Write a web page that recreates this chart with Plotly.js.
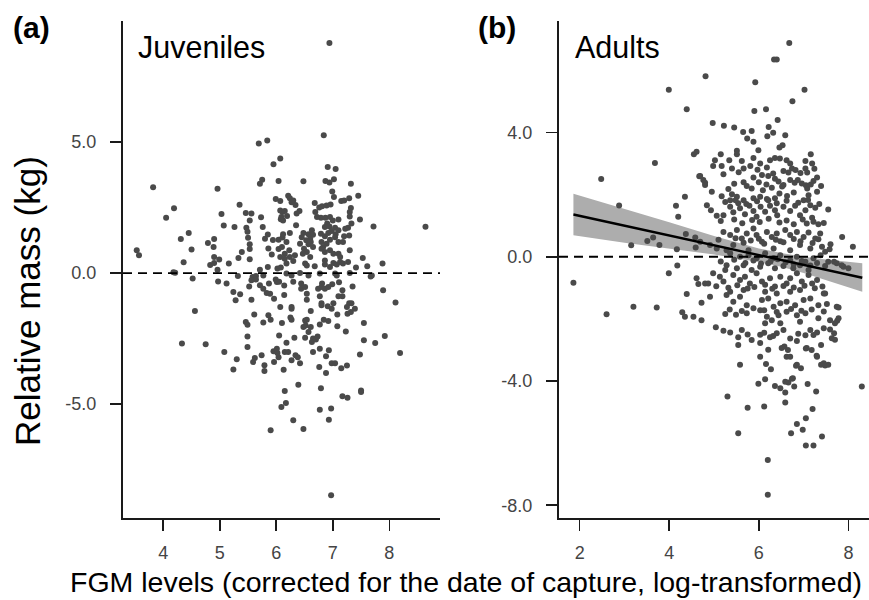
<!DOCTYPE html>
<html>
<head>
<meta charset="utf-8">
<script src="https://cdn.plot.ly/plotly-3.0.1.min.js"></script>
<style>html,body{margin:0;padding:0;background:#fff;}#chart{width:869px;height:600px;}</style>
</head>
<body>
<div id="chart"></div>
<script>
// ---------- Panel (a) Juveniles ----------
const juvX = [5.84,5.69,6.07,5.95,3.82,4.96,5.75,5.71,6.04,5.99,4.19,4.05,5.35,5.03,5.46,5.56,6.07,6.11,5.73,6.08,5.53,5.07,5.26,5.47,5.49,5.76,4.45,4.31,4.79,4.90,4.89,4.50,5.50,5.53,5.53,5.80,5.85,5.94,6.04,6.11,5.86,5.92,6.04,6.10,3.53,3.57,4.36,4.90,4.99,4.83,4.90,4.96,5.16,5.33,5.39,5.53,5.71,5.85,6.02,6.08,4.18,4.21,5.32,4.52,5.58,5.64,5.56,5.64,5.77,5.99,6.05,4.97,5.12,5.87,
6.84,6.91,7.05,6.48,6.87,6.94,7.02,7.32,7.45,6.99,7.02,7.15,7.20,7.29,6.21,6.24,6.30,6.34,6.27,6.07,6.68,6.76,6.81,6.89,6.96,6.41,6.36,6.15,6.19,6.12,6.09,7.32,7.30,6.69,6.72,6.79,6.87,6.95,7.00,7.10,6.90,6.86,6.94,7.04,7.30,7.33,7.27,7.22,7.48,7.72,8.64,6.35,6.24,6.12,6.48,6.57,6.63,6.65,6.60,6.53,6.45,6.79,6.86,6.92,6.98,7.05,7.10,6.18,6.15,6.23,6.42,6.49,6.57,6.61,6.65,6.54,6.60,6.47,6.80,6.83,6.89,6.95,7.04,7.10,7.18,7.20,7.29,6.80,6.86,6.95,7.01,7.10,7.13,7.30,6.07,6.15,6.24,6.33,6.30,6.18,6.51,6.54,6.68,6.86,6.86,6.95,7.01,7.07,7.13,7.18,7.27,7.41,7.53,7.61,7.88,6.18,6.27,6.42,6.57,6.77,7.04,7.07,7.30,7.69,6.30,6.44,6.81,6.99,7.11,7.67,7.89,6.94,
5.24,5.36,5.28,5.52,5.56,5.71,5.77,5.83,5.89,5.96,6.01,6.14,6.14,4.56,4.33,4.75,5.08,5.30,5.24,5.49,5.49,5.46,5.49,5.61,5.77,5.86,5.90,5.59,5.62,5.74,5.79,5.79,5.95,6.01,5.96,6.04,6.02,6.05,6.10,6.07,6.18,6.32,6.27,6.25,6.27,6.27,6.15,6.21,6.27,6.34,6.38,6.42,6.13,6.44,6.51,6.54,6.54,6.61,6.51,6.54,6.48,6.52,6.61,6.57,6.51,6.65,6.63,6.70,6.73,6.74,6.80,6.86,6.92,6.77,6.80,6.80,6.91,6.98,7.01,7.08,7.17,7.10,7.17,6.77,6.84,6.92,7.08,7.23,6.65,6.77,6.88,6.93,6.98,7.04,7.15,7.25,6.76,6.88,7.25,7.29,7.33,7.26,7.32,7.39,7.35,7.55,7.55,7.48,7.75,7.92,8.11,8.19,6.15,6.39,6.79,7.50,7.50,7.17,7.26,6.17,6.09,6.30,5.90,6.48,6.77,6.97,6.93,6.97];
const juvY = [5.06,4.94,4.37,4.15,3.27,3.22,3.56,3.41,3.51,2.83,2.47,2.11,2.61,2.25,2.29,2.27,2.39,2.33,2.13,2.05,2.01,1.81,1.76,1.73,1.58,1.76,1.53,1.30,1.15,1.30,0.99,0.90,1.35,1.10,0.92,1.31,1.47,1.26,1.27,1.36,0.94,0.71,0.92,0.99,0.87,0.68,0.41,0.61,0.52,0.31,0.38,0.13,0.36,0.57,0.80,0.53,0.13,0.23,0.17,0.21,0.03,0.01,-0.11,-0.21,-0.15,-0.11,-0.28,-0.25,-0.09,-0.25,-0.33,-0.32,-0.40,-0.40,
5.26,4.05,3.97,3.50,3.51,3.46,3.58,3.41,2.95,3.11,2.90,2.75,2.77,2.85,2.95,2.85,2.77,2.60,2.70,2.75,2.67,2.50,2.55,2.58,2.62,2.37,2.27,2.37,2.18,2.01,2.14,2.48,2.33,2.33,2.14,2.11,2.11,2.14,2.01,2.04,1.89,1.76,1.78,1.73,2.16,1.89,1.73,1.69,2.04,1.78,1.77,1.82,1.53,1.48,1.53,1.48,1.63,1.46,1.31,1.25,1.37,1.50,1.40,1.53,1.60,1.48,1.63,1.18,0.74,0.87,1.12,0.93,1.10,1.18,0.99,0.80,0.61,0.74,1.18,0.99,1.12,1.27,1.37,1.18,1.18,1.40,1.43,0.93,0.80,0.87,0.74,0.74,0.61,0.87,0.61,0.55,0.61,0.68,0.46,0.36,0.36,0.29,0.26,0.48,0.33,0.23,0.38,0.33,0.42,0.36,0.42,0.21,0.57,0.26,0.36,-0.02,-0.09,0.00,-0.09,-0.02,-0.02,-0.09,0.00,-0.09,-0.33,-0.40,-0.40,-0.43,-0.35,-0.13,-0.66,8.78,
-0.72,-0.81,-1.04,-0.51,-1.02,-0.47,-0.60,-0.76,-0.79,-0.98,-0.34,-0.48,-0.84,-1.45,-2.69,-2.72,-3.01,-3.29,-3.68,-2.82,-2.42,-1.87,-1.97,-1.58,-1.89,-1.61,-1.78,-3.40,-3.24,-3.14,-3.52,-3.74,-2.99,-2.89,-3.40,-3.21,-3.05,-2.38,-1.91,-1.30,-2.66,-2.47,-1.78,-1.70,-1.36,-1.30,-3.01,-3.01,-3.33,-3.14,-3.21,-3.44,-3.69,-0.60,-0.53,-0.79,-1.02,-1.45,-1.81,-1.78,-2.06,-2.00,-2.06,-2.25,-2.47,-2.50,-2.63,-2.54,-2.42,-0.60,-0.53,-0.60,-0.53,-0.89,-1.15,-1.23,-1.27,-1.36,-1.15,-1.58,-0.66,-0.89,-0.89,-1.96,-1.78,-1.83,-2.03,-2.23,-3.01,-2.89,-3.18,-2.95,-3.44,-3.44,-3.63,-3.53,-3.59,-3.82,-1.30,-1.15,-1.15,-1.55,-1.49,-1.36,-0.51,-1.91,-2.57,-3.11,-2.67,-2.40,-1.12,-3.05,-4.50,-4.26,-4.40,-4.48,-4.54,-4.70,-4.76,-4.96,-5.11,-5.62,-6.00,-5.95,-5.22,-5.17,-5.60,-8.48];

// ---------- Panel (b) Adults ----------
const adX = [1.86,2.48,2.88,3.15,3.51,3.64,3.78,3.68,3.99,4.39,4.81,4.15,4.20,4.35,4.17,4.37,4.58,4.59,4.18,3.99,4.39,4.55,4.61,4.67,4.80,4.97,5.22,5.45,5.92,6.34,6.40,6.68,6.75,7.02,5.90,6.16,6.42,6.22,6.32,6.59,5.65,5.84,5.88,5.99,8.10,7.86,7.55,7.33,7.37,7.58,7.74,7.89,8.00,7.68,
2.60,3.20,3.72,4.29,4.35,4.54,4.72,4.72,5.04,5.21,5.36,5.25,5.49,5.54,5.54,5.58,5.84,6.03,5.30,5.75,6.12,5.99,6.14,5.54,6.20,6.20,6.36,6.48,6.59,6.59,6.66,6.76,6.79,6.72,6.85,6.98,7.05,7.05,7.22,7.20,7.09,7.28,7.41,8.30,6.16,6.27,6.57,6.65,6.70,6.83,6.94,7.05,7.18,7.29,7.39,7.48,7.55,7.39,7.63,7.68,7.59,7.75,7.78,7.52,7.70,5.74,
6.19,6.46,6.53,5.51,5.51,
5.15,5.02,4.98,5.17,5.34,5.40,5.21,5.62,5.66,5.81,5.88,6.03,6.18,6.25,6.36,6.47,6.62,6.70,6.74,6.66,6.82,7.04,7.16,7.19,7.04,7.08,
4.69,4.76,4.80,4.95,5.17,5.32,5.40,5.66,5.88,5.84,6.07,6.21,6.09,6.29,6.36,6.44,6.55,6.70,6.87,6.96,7.08,7.16,7.30,7.39,7.30,7.11,7.00,6.78,6.63,6.46,6.36,6.21,6.03,5.88,5.66,5.51,5.36,
4.84,4.93,5.06,5.21,5.36,5.43,5.54,5.58,5.69,5.79,5.88,5.95,6.04,6.14,6.25,6.36,6.41,6.55,6.70,6.81,6.92,7.04,7.15,7.26,7.19,7.07,
5.21,5.36,5.51,5.62,5.73,5.88,5.95,6.07,6.18,6.29,6.40,6.48,6.59,6.70,6.85,7.00,7.11,7.26,4.69,4.91,5.06,5.28,5.43,5.77,6.33,6.70,6.92,7.15,7.41,7.48,
5.36,5.58,5.77,5.95,6.14,6.33,6.48,6.70,6.85,7.04,7.22,7.38,7.55,7.85,5.28,5.51,5.66,5.84,6.03,6.21,6.36,6.55,6.77,6.92,7.11,
4.98,5.13,5.25,5.21,4.61,4.65,4.80,4.87,5.43,5.58,5.69,5.80,5.95,6.07,6.25,6.36,6.48,6.62,6.70,6.85,6.96,7.11,7.19,7.30,7.45,5.36,5.66,6.14,6.40,6.70,6.92,
4.91,5.28,5.43,5.58,5.73,6.07,6.21,6.33,6.48,6.62,6.81,7.00,7.15,7.33,7.48,7.74,5.73,6.03,6.18,6.29,6.44,6.62,6.85,7.04,7.33,7.59,7.78,6.14,6.48,6.92,
5.62,6.03,6.25,6.40,6.55,6.70,6.85,7.04,7.15,7.30,7.45,7.70,6.21,6.51,6.62,6.85,7.07,7.30,7.45,6.03,6.74,6.59,
5.55,5.97,6.32,6.55,6.93,7.24,
5.45,5.73,6.00,6.17,6.52,6.80,7.05,7.22,
5.25,5.48,5.72,5.96,6.18,6.40,6.62,6.88,7.10,7.35,
5.15,5.45,5.63,5.85,6.02,6.22,6.46,6.62,6.78,6.98,7.22,7.45,
5.10,5.48,5.66,5.82,6.00,6.12,6.38,6.55,6.78,6.93,7.20,7.33,7.60,
5.15,5.45,5.70,5.88,6.05,6.26,6.42,6.60,6.78,6.96,7.15,7.30,7.48,
5.05,5.32,5.52,5.75,5.90,6.14,6.30,6.55,6.78,7.02,7.25,7.42,
5.35,5.62,5.88,6.12,6.40,6.72,6.95,7.18,7.45,
5.75,6.12,6.32,6.88,7.22];
const adY = [-0.84,2.50,1.65,0.37,0.51,0.62,0.38,3.02,5.38,4.75,5.81,1.64,1.29,1.93,0.24,0.73,0.62,0.30,-0.28,-0.53,-1.20,3.30,3.38,2.59,2.38,4.31,4.22,4.16,5.62,6.35,6.35,6.88,5.01,5.38,4.69,4.75,4.40,4.18,3.99,3.91,4.02,4.05,3.70,3.43,0.32,0.64,1.52,1.05,0.75,0.24,-0.21,-0.32,-0.37,-0.16,
-1.85,-1.61,-1.63,-1.79,-1.93,-1.93,-2.04,-1.48,-2.27,-2.38,-2.44,-1.84,-1.87,-2.59,-2.84,-3.48,-2.68,-2.78,-4.50,-4.86,-4.82,-4.09,-3.94,-5.68,-6.54,-7.66,-4.16,-4.23,-4.37,-4.69,-4.05,-3.91,-4.18,-5.68,-5.38,-5.57,-5.20,-6.08,-6.08,-4.90,-4.10,-4.34,-5.79,-4.18,-3.45,-3.62,-2.89,-3.00,-3.22,-3.51,-3.59,-2.95,-3.00,-3.19,-3.48,-3.50,-3.48,-2.84,-2.62,-2.46,-2.34,-2.06,-1.63,-1.52,-2.14,3.81,
3.88,3.52,3.59,3.41,3.30,
3.30,3.11,2.92,2.92,3.11,2.84,2.66,3.08,2.84,2.92,3.18,3.00,2.87,3.11,3.18,3.16,3.11,3.00,2.84,2.71,2.79,3.08,3.30,3.00,2.84,2.71,
2.60,2.47,2.31,2.09,1.95,2.18,2.01,2.40,2.55,2.20,2.63,2.60,2.14,2.22,2.51,2.42,2.31,2.47,2.47,2.36,2.20,2.33,2.55,2.28,2.09,1.98,1.82,2.07,1.96,2.04,1.88,1.82,1.93,1.88,1.82,1.93,1.82,
1.66,1.50,1.32,1.34,1.61,1.43,1.72,1.56,1.37,1.64,1.47,1.29,1.61,1.45,1.64,1.50,1.34,1.61,1.47,1.64,1.34,1.50,1.66,1.58,1.26,1.07,
0.80,0.70,0.86,0.59,0.75,0.91,0.70,0.48,0.80,0.64,0.75,0.50,0.86,0.70,0.80,0.64,0.78,0.59,0.48,0.38,0.27,0.21,0.38,0.21,0.27,0.21,0.38,0.27,0.32,0.16,
0.11,0.00,0.05,-0.05,0.11,-0.05,0.05,-0.11,0.00,-0.16,-0.05,0.05,-0.16,-0.27,-0.27,-0.37,-0.27,-0.43,-0.32,-0.21,-0.37,-0.30,-0.37,-0.27,-0.43,
-0.53,-0.64,-0.43,-0.80,-0.69,-0.88,-0.86,-0.86,-0.59,-0.75,-0.64,-0.86,-0.53,-0.80,-0.69,-0.96,-0.64,-0.86,-0.69,-0.53,-0.80,-0.59,-0.86,-0.75,-1.18,-1.13,-1.07,-1.13,-1.18,-1.13,-1.07,
-1.29,-1.23,-1.45,-1.29,-1.56,-1.39,-1.34,-1.61,-1.50,-1.45,-1.56,-1.39,-1.34,-1.56,-1.18,-1.61,-1.82,-1.72,-1.93,-2.04,-1.88,-1.77,-1.88,-1.82,-1.98,-2.04,-1.98,-2.14,-2.14,-2.09,
-2.36,-2.51,-2.59,-2.46,-2.36,-2.63,-2.71,-2.53,-2.36,-2.44,-2.30,-2.67,-2.99,-2.94,-3.22,-3.48,-2.94,-3.22,-3.43,-3.22,-3.93,-4.02,
2.72,2.80,2.68,2.76,2.70,2.83,
2.35,2.28,2.40,2.33,2.26,2.38,2.30,2.44,
1.76,1.82,1.70,1.79,1.86,1.72,1.80,1.74,1.83,1.70,
1.15,1.20,1.08,1.18,1.12,1.22,1.10,1.17,1.05,1.20,1.13,1.09,
0.55,0.60,0.45,0.52,0.58,0.42,0.55,0.47,0.57,0.50,0.44,0.56,0.40,
-0.15,-0.10,-0.20,-0.12,-0.22,-0.15,-0.08,-0.18,-0.24,-0.14,-0.28,-0.20,-0.30,
-0.95,-1.00,-0.92,-1.02,-0.97,-0.90,-1.03,-0.94,-0.99,-0.93,-1.01,-0.96,
-1.70,-1.75,-1.66,-1.72,-1.78,-1.68,-1.74,-1.70,-1.76,
-2.50,-2.45,-2.55,-2.48,-2.52];

// regression fit and confidence band (adults)
const fitX     = [1.86, 3.0, 4.0, 5.0, 6.0, 6.5, 7.0, 7.5, 8.31];
const fitY     = [1.36, 1.00, 0.685, 0.369, 0.054, -0.104, -0.262, -0.419, -0.675];
const fitUpper = [2.03, 1.55, 1.115, 0.67, 0.27, 0.12, 0.00, -0.09, -0.21];
const fitLower = [0.69, 0.45, 0.255, 0.07, -0.17, -0.32, -0.52, -0.75, -1.13];

// tick labels
const juvXTicks = [4, 5, 6, 7, 8];
const juvYTicks = [-5, 0, 5];
const adXTicks = [2, 4, 6, 8];
const adYTicks = [-8, -4, 0, 4];

const W = 869, H = 600;
const FONT = 'Liberation Sans, Arial, sans-serif';
const dotColor = '#4a4a4a';

const traces = [
  {x: juvX, y: juvY, type: 'scatter', mode: 'markers', xaxis: 'x', yaxis: 'y',
   marker: {color: dotColor, size: 6}, hoverinfo: 'skip'},
  {x: fitX.concat(fitX.slice().reverse()), y: fitUpper.concat(fitLower.slice().reverse()),
   type: 'scatter', mode: 'lines', fill: 'toself', fillcolor: '#adadad',
   line: {width: 0}, xaxis: 'x2', yaxis: 'y2', hoverinfo: 'skip'},
  {x: adX, y: adY, type: 'scatter', mode: 'markers', xaxis: 'x2', yaxis: 'y2',
   marker: {color: dotColor, size: 6}, hoverinfo: 'skip'},
  {x: fitX, y: fitY, type: 'scatter', mode: 'lines', xaxis: 'x2', yaxis: 'y2',
   line: {color: '#000', width: 2.4}, hoverinfo: 'skip'}
];

const axBase = {
  showgrid: false, zeroline: false, showline: true, linecolor: '#1a1a1a', linewidth: 2,
  ticks: 'outside', ticklen: 11, tickwidth: 1.6, tickcolor: '#1a1a1a',
  tickfont: {family: FONT, size: 18, color: '#444'}, fixedrange: true
};
const yDom = [1 - 518 / H, 1 - 21 / H];

const layout = {
  width: W, height: H, showlegend: false,
  paper_bgcolor: '#fff', plot_bgcolor: '#fff',
  margin: {l: 0, r: 0, t: 0, b: 0, pad: 0},
  xaxis: Object.assign({}, axBase, {domain: [123 / W, 440 / W], range: [3.287, 8.897],
    tickmode: 'array', tickvals: juvXTicks, ticktext: juvXTicks.map(String), anchor: 'y', ticklabelstandoff: 6}),
  yaxis: Object.assign({}, axBase, {domain: yDom, range: [-9.35, 9.62],
    tickmode: 'array', tickvals: juvYTicks, ticktext: juvYTicks.map(v => v.toFixed(1)), anchor: 'x', ticklabelstandoff: 10}),
  xaxis2: Object.assign({}, axBase, {domain: [559 / W, 1], range: [1.538, 8.46],
    tickmode: 'array', tickvals: adXTicks, ticktext: adXTicks.map(String), anchor: 'y2', ticklabelstandoff: 6}),
  yaxis2: Object.assign({}, axBase, {domain: yDom, range: [-8.41, 7.59],
    tickmode: 'array', tickvals: adYTicks, ticktext: adYTicks.map(v => v.toFixed(1)), anchor: 'x2', ticklabelstandoff: 10}),
  shapes: [
    {type: 'line', xref: 'x domain', x0: 0, x1: 1, yref: 'y', y0: 0, y1: 0,
     line: {color: '#000', width: 1.8, dash: '9px,6px'}, layer: 'above'},
    {type: 'line', xref: 'x2 domain', x0: 0, x1: 1, yref: 'y2', y0: 0, y1: 0,
     line: {color: '#000', width: 1.8, dash: '9px,6px'}, layer: 'above'}
  ],
  annotations: [
    {text: '<b>(a)</b>', xref: 'paper', yref: 'paper', x: 11 / W, y: 1 - 28 / H, xanchor: 'left', yanchor: 'middle',
     showarrow: false, font: {family: FONT, size: 30, color: '#000'}},
    {text: '<b>(b)</b>', xref: 'paper', yref: 'paper', x: 476 / W, y: 1 - 28 / H, xanchor: 'left', yanchor: 'middle',
     showarrow: false, font: {family: FONT, size: 30, color: '#000'}},
    {text: 'Juveniles', xref: 'paper', yref: 'paper', x: 136 / W, y: 1 - 47 / H, xanchor: 'left', yanchor: 'middle',
     showarrow: false, font: {family: FONT, size: 30.5, color: '#000'}},
    {text: 'Adults', xref: 'paper', yref: 'paper', x: 573 / W, y: 1 - 47 / H, xanchor: 'left', yanchor: 'middle',
     showarrow: false, font: {family: FONT, size: 30.5, color: '#000'}},
    {text: 'Relative mass (kg)', xref: 'paper', yref: 'paper', x: 27 / W, y: 1 - 301 / H, xanchor: 'center', yanchor: 'middle',
     textangle: -90, showarrow: false, font: {family: FONT, size: 35, color: '#000'}},
    {text: 'FGM levels (corrected for the date of capture, log-transformed)', xref: 'paper', yref: 'paper',
     x: 466 / W, y: 1 - 582 / H, xanchor: 'center', yanchor: 'middle',
     showarrow: false, font: {family: FONT, size: 28.5, color: '#000'}}
  ]
};

Plotly.newPlot('chart', traces, layout, {displayModeBar: false, staticPlot: true});
</script>
</body>
</html>
